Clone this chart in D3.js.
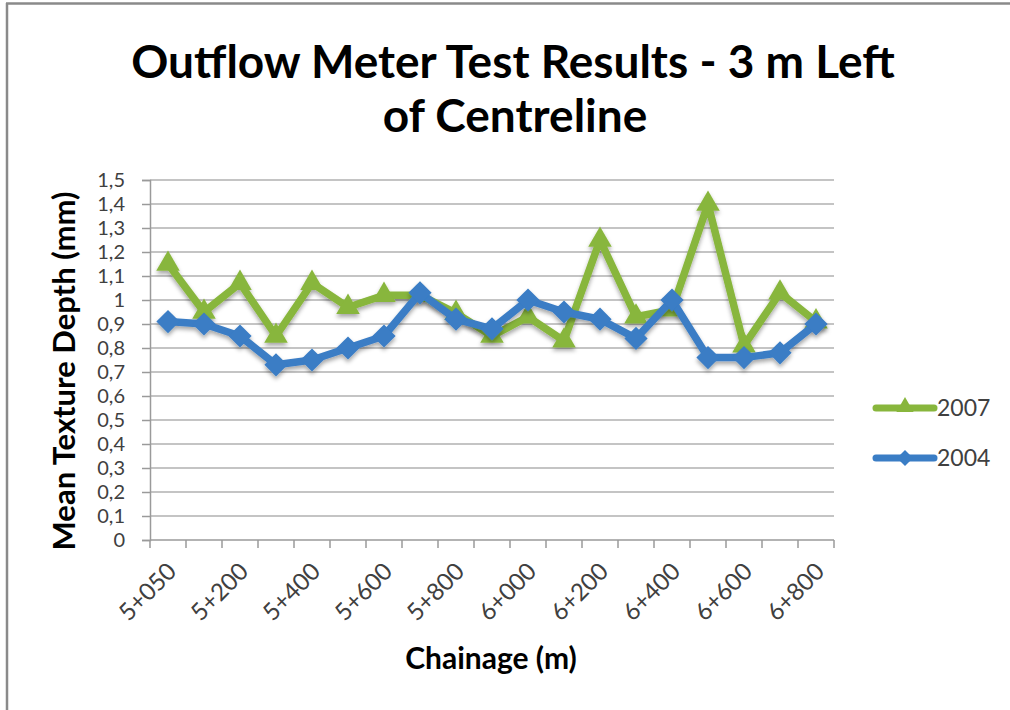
<!DOCTYPE html>
<html lang="en">
<head>
    <meta charset="UTF-8">
    <title>Outflow Meter Test Results</title>
    <script src="https://d3js.org/d3.v7.min.js"></script>
    <style>
        * { margin: 0; padding: 0; }
        body { background: #fff; }
        text { font-family: "Lato", "Open Sans", sans-serif; }
    </style>
</head>
<body>
<script>
    // chainage categories
    var chainage = ["5+050", "5+100", "5+200", "5+300", "5+400", "5+500", "5+600", "5+700", "5+800", "5+900",
        "6+000", "6+100", "6+200", "6+300", "6+400", "6+500", "6+600", "6+700", "6+800"];
    var depth2007 = [1.15, 0.95, 1.07, 0.85, 1.07, 0.97, 1.02, 1.02, 0.945, 0.85,
        0.93, 0.83, 1.25, 0.93, 0.96, 1.40, 0.81, 1.03, 0.91];
    var depth2004 = [0.91, 0.90, 0.85, 0.73, 0.75, 0.80, 0.85, 1.03, 0.92, 0.88,
        1.00, 0.95, 0.92, 0.84, 1.00, 0.76, 0.76, 0.78, 0.90];
    var yTicks = [0, 0.1, 0.2, 0.3, 0.4, 0.5, 0.6, 0.7, 0.8, 0.9, 1, 1.1, 1.2, 1.3, 1.4, 1.5];
    var xLabelEvery = 2;

    var green = "#88b63c", blue = "#3a7dc5";

    var svg = d3.select("body").append("svg")
        .attr("width", 1010).attr("height", 710);

    var defs = svg.append("defs");
    var f = defs.append("filter").attr("id", "shadow")
        .attr("x", "-20%").attr("y", "-20%").attr("width", "140%").attr("height", "160%");
    f.append("feDropShadow").attr("dx", 0).attr("dy", 3).attr("stdDeviation", 2)
        .attr("flood-color", "#000").attr("flood-opacity", 0.35);

    // outer frame (top and left edges visible)
    svg.append("line").attr("x1", 6).attr("x2", 1010).attr("y1", 3.5).attr("y2", 3.5)
        .attr("stroke", "#8a8a8a").attr("stroke-width", 2.5);
    svg.append("line").attr("x1", 7).attr("x2", 7).attr("y1", 3).attr("y2", 710)
        .attr("stroke", "#8a8a8a").attr("stroke-width", 2.5);

    // title
    var title = svg.append("text").attr("text-anchor", "middle")
        .attr("font-weight", "bold").attr("font-size", 46).attr("fill", "#000");
    title.append("tspan").attr("x", 513).attr("y", 78).text("Outflow Meter Test Results - 3 m Left");
    title.append("tspan").attr("x", 515).attr("y", 132).text("of Centreline");

    var plotLeft = 150, plotRight = 834, plotTop = 180, plotBottom = 540;

    var x = d3.scaleBand().domain(chainage).range([plotLeft, plotRight]);
    var y = d3.scaleLinear().domain([0, 1.5]).range([plotBottom, plotTop]);

    // gridlines
    svg.append("g").selectAll("line").data(yTicks.slice(1)).enter().append("line")
        .attr("x1", plotLeft).attr("x2", plotRight)
        .attr("y1", function (d) { return y(d); }).attr("y2", function (d) { return y(d); })
        .attr("stroke", "#c4c4c4").attr("stroke-width", 2);

    // y axis
    var yAxis = svg.append("g").attr("transform", "translate(" + plotLeft + ",0)")
        .call(d3.axisLeft(y).tickValues(yTicks).tickSize(8).tickPadding(17)
            .tickFormat(function (d) { return d3.format("~g")(d).replace(".", ","); }));
    yAxis.select(".domain").attr("stroke", "#9a9a9a").attr("stroke-width", 1.5);
    yAxis.selectAll(".tick line").attr("stroke", "#9a9a9a").attr("stroke-width", 1.5);
    yAxis.selectAll("text").attr("font-size", 20).attr("fill", "#404040")
        .attr("font-family", "Lato, sans-serif");

    // x axis: ticks between categories
    var xAxis = svg.append("g").attr("transform", "translate(0," + plotBottom + ")");
    xAxis.append("line").attr("x1", plotLeft).attr("x2", plotRight).attr("y1", 0).attr("y2", 0)
        .attr("stroke", "#9a9a9a").attr("stroke-width", 1.5);
    var edges = chainage.map(function (c) { return x(c); }).concat([plotRight]);
    xAxis.selectAll(".xt").data(edges).enter().append("line")
        .attr("x1", function (d) { return d; }).attr("x2", function (d) { return d; })
        .attr("y1", 0).attr("y2", 8)
        .attr("stroke", "#9a9a9a").attr("stroke-width", 1.5);
    xAxis.selectAll(".xl").data(chainage.filter(function (c, i) { return i % xLabelEvery === 0; }))
        .enter().append("text")
        .attr("text-anchor", "end")
        .attr("font-size", 24).attr("fill", "#404040")
        .attr("transform", function (d) {
            return "translate(" + (x(d) + x.bandwidth() / 2 + 4) + ",27) rotate(-45)";
        })
        .attr("dy", "0.35em")
        .text(function (d) { return d; });

    // axis titles
    svg.append("text").attr("x", 491).attr("y", 669).attr("text-anchor", "middle")
        .attr("font-weight", "bold").attr("font-size", 30).attr("fill", "#000")
        .text("Chainage (m)");
    svg.append("text").attr("transform", "translate(64,371) rotate(-90)")
        .attr("text-anchor", "middle").attr("dy", "0.35em")
        .attr("font-weight", "bold").attr("font-size", 31).attr("fill", "#000")
        .text("Mean Texture Depth (mm)");

    var cx = function (d, i) { return x(chainage[i]) + x.bandwidth() / 2; };
    var line = d3.line().x(cx).y(function (d) { return y(d); });

    var tri = d3.symbol().type(d3.symbolTriangle).size(240);
    var dia = d3.symbol().type(d3.symbolSquare).size(270);

    function drawSeries(data, color, marker, rot) {
        var g = svg.append("g").attr("filter", "url(#shadow)");
        g.append("path").datum(data).attr("d", line)
            .attr("fill", "none").attr("stroke", color).attr("stroke-width", 7.5)
            .attr("stroke-linejoin", "round");
        g.selectAll(".m").data(data).enter().append("path")
            .attr("d", marker)
            .attr("transform", function (d, i) {
                return "translate(" + cx(d, i) + "," + y(d) + ") rotate(" + rot + ")";
            })
            .attr("fill", color);
    }

    drawSeries(depth2007, green, tri, 0);
    drawSeries(depth2004, blue, dia, 45);

    // legend
    var legend = [
        { name: "2007", color: green, rot: 0, y: 408 },
        { name: "2004", color: blue, rot: 45, y: 458 }
    ];
    var lg = svg.append("g").selectAll("g").data(legend).enter().append("g");
    lg.append("line").attr("x1", 876).attr("x2", 934)
        .attr("y1", function (d) { return d.y; }).attr("y2", function (d) { return d.y; })
        .attr("stroke", function (d) { return d.color; }).attr("stroke-width", 7)
        .attr("stroke-linecap", "round");
    lg.append("path").attr("d", function (d) { return d3.symbol().type(d.rot ? d3.symbolSquare : d3.symbolTriangle).size(130)(); })
        .attr("transform", function (d) { return "translate(905," + (d.y - (d.rot ? 0 : 1)) + ") rotate(" + d.rot + ")"; })
        .attr("fill", function (d) { return d.color; });
    lg.append("text").attr("x", 937).attr("y", function (d) { return d.y; })
        .attr("dy", "0.35em").attr("font-size", 23).attr("fill", "#404040")
        .text(function (d) { return d.name; });
</script>
</body>
</html>
